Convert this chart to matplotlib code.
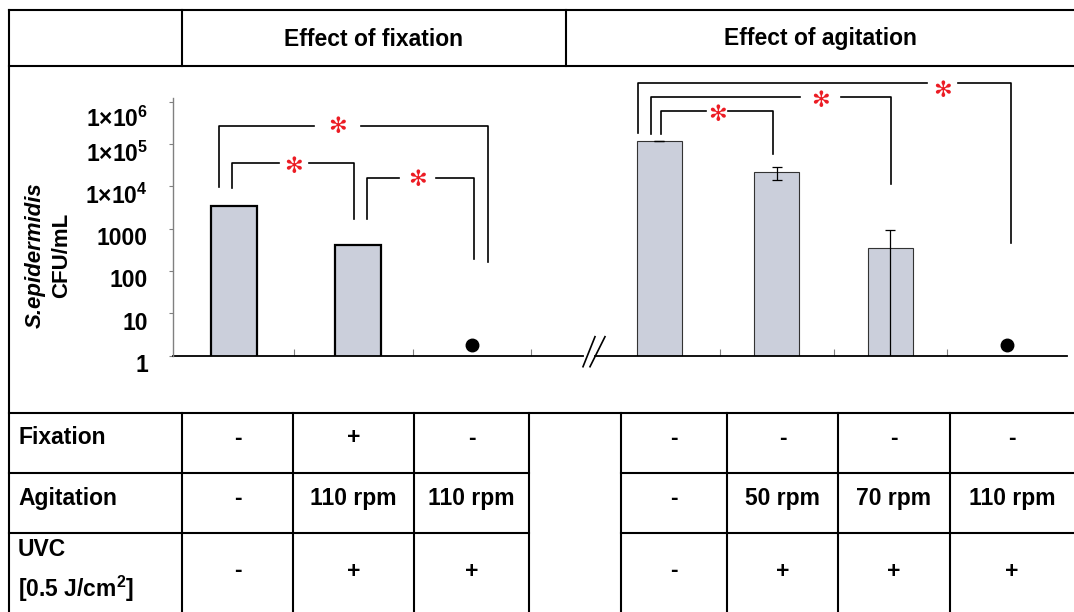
import numpy as np
import matplotlib.pyplot as plt
from matplotlib.transforms import offset_copy

plt.rcParams['font.family'] = ['Liberation Sans', 'DejaVu Sans']
plt.rcParams['font.weight'] = 'bold'
plt.rcParams['mathtext.fontset'] = 'custom'
plt.rcParams['mathtext.rm'] = 'Liberation Sans:bold'
plt.rcParams['mathtext.it'] = 'Liberation Sans:bold:italic'
plt.rcParams['mathtext.bf'] = 'Liberation Sans:bold'

# S. epidermidis CFU/mL
fix_cfu = [3500, 410]            # 3rd condition: no growth (dot)
agi_cfu = [1.18e5, 2.14e4, 353]  # 4th condition: no growth (dot)
agi_sd = [1500, 7000, 560]
no_growth = 1.8                  # level the "not detected" dots are drawn at

ytick_vals = [1, 10, 100, 1000, 1e4, 1e5, 1e6]
ytick_labels = ['1', '10', '100', '1000', '1×10$^{4}$', '1×10$^{5}$', '1×10$^{6}$']

headers = ['Effect of fixation', 'Effect of agitation']
row_names = ['Fixation', 'Agitation', 'UVC\n[0.5 J/cm$^{2}$]']
fixation = ['-', '+', '-', '-', '-', '-', '-']
agitation = ['-', '110 rpm', '110 rpm', '-', '50 rpm', '70 rpm', '110 rpm']
uvc = ['-', '+', '+', '-', '+', '+', '+']

# layout (figure pixels)
W, H = 1074, 612
x0, x1, ytop, ybase = 173, 1067, 98, 355.5
left_x = [233.5, 357.5, 471.5]
right_x = [659, 776.7, 890, 1006.7]
cat_edges = [293.6, 412.5, 531, 720.3, 833.7, 947.3]
col_x = [237.5, 353.5, 471.5, 674, 782.5, 894, 1012]
row_y = [438, 498, 571]
fs = 16.5
bar_color = '#cbcfdb'
red = '#ec1c24'

fig = plt.figure(figsize=(W / 100, H / 100), dpi=100)

ax = fig.add_axes([x0 / W, 1 - ybase / H, (x1 - x0) / W, (ybase - ytop) / H])
ax.set_zorder(1)
ax.set_xlim(x0, x1)
ax.set_yscale('log')
ax.set_ylim(1, 1.22e6)

ax.bar(left_x[:2], fix_cfu, width=46, color=bar_color, edgecolor='black', linewidth=1.6)
ax.bar(right_x[:3], agi_cfu, width=45, color=bar_color, edgecolor='#333333', linewidth=0.8)
ax.errorbar(right_x[:3], agi_cfu, yerr=agi_sd, fmt='none', ecolor='black',
            elinewidth=0.9, capsize=3.5, capthick=0.9)
ax.plot([left_x[2], right_x[3]], [no_growth, no_growth], 'o', color='black', ms=9,
        clip_on=False)

for s in ['top', 'right', 'bottom']:
    ax.spines[s].set_visible(False)
ax.spines['left'].set_color('#808080')
ax.spines['left'].set_linewidth(1.0)
ax.set_yticks(ytick_vals)
ax.minorticks_off()
ax.tick_params(axis='y', direction='out', length=3, color='#808080', labelleft=False)
ax.set_xticks(cat_edges)
ax.tick_params(axis='x', direction='in', length=5, color='#808080', labelbottom=False)

xt = ax.get_xaxis_transform()
ax.plot([x0, 583], [0, 0], transform=xt, color='black', lw=1.3, clip_on=False)
ax.plot([595, x1], [0, 0], transform=xt, color='black', lw=1.3, clip_on=False)

lab_tr = offset_copy(ax.get_yaxis_transform(), fig=fig, x=-25, y=-10, units='dots')
for v, lab in zip(ytick_vals, ytick_labels):
    dy = -8 if v == 1e6 else 0
    tr = offset_copy(lab_tr, fig=fig, y=dy, units='dots')
    ax.text(0, v, lab, transform=tr, ha='right', va='center', fontsize=fs)

# overlay in pixel coordinates: table, brackets, labels
tab = fig.add_axes([0, 0, 1, 1])
tab.set_zorder(2)
tab.set_xlim(0, W)
tab.set_ylim(H, 0)
tab.axis('off')

lw = 1.5
for y in [10, 65.7, 412.7]:
    tab.plot([9, W], [y, y], color='black', lw=lw, solid_capstyle='projecting')
for y in [473.3, 533.3]:
    tab.plot([9, 529], [y, y], color='black', lw=lw)
    tab.plot([621, W], [y, y], color='black', lw=lw)
tab.plot([9, 9], [10, H], color='black', lw=lw, solid_capstyle='projecting')
for x in [182, 566]:
    tab.plot([x, x], [10, 65.7], color='black', lw=lw)
for x in [182, 293, 414, 529, 621, 727, 838, 950]:
    tab.plot([x, x], [412.7, H], color='black', lw=lw)

tab.text(374, 39, headers[0], ha='center', va='center', fontsize=fs)
tab.text(820, 39, headers[1], ha='center', va='center', fontsize=fs)

tab.text(18, row_y[0], row_names[0], ha='left', va='center', fontsize=fs)
tab.text(18, row_y[1], row_names[1], ha='left', va='center', fontsize=fs)
uvc_name = row_names[2].split('\n')
tab.text(18, 549, uvc_name[0], ha='left', va='center', fontsize=fs)
tab.text(18, 589, uvc_name[1], ha='left', va='center', fontsize=fs)
for row, y in zip([fixation, agitation, uvc], row_y):
    for x, s in zip(col_x, row):
        tab.text(x, y, s, ha='center', va='center', fontsize=fs)

tab.text(35, 255, 'S.epidermidis', rotation=90, ha='center', va='center',
         fontsize=16, style='italic')
tab.text(62, 255, 'CFU/mL', rotation=90, ha='center', va='center', fontsize=16)

# axis break
tab.plot([583, 595], [366.7, 336.7], color='black', lw=1.2)
tab.plot([590, 605], [366.7, 336.7], color='black', lw=1.2)

# significance brackets: x left, x right, top, left foot, right foot, gap start, gap end, star y
brackets = [
    (218.6, 487.5, 125.7, 186.7, 261.7, 314, 360.7, 127),
    (232, 353.6, 162.7, 188.3, 219.3, 278.6, 309, 167),
    (367, 474, 178.3, 219.3, 259.3, 399, 436.4, 180),
    (637.7, 1010.7, 82.7, 133.3, 243.3, 926.7, 958.3, 91),
    (650.7, 891, 97.3, 134, 184.3, 800, 840.7, 101),
    (660.7, 773.3, 110.7, 134, 154, 706, 728.3, 115),
]
for xl, xr, yt, ybl, ybr, ga, gb, sy in brackets:
    tab.plot([xl, xl, ga], [ybl, yt, yt], color='black', lw=1.2)
    tab.plot([gb, xr, xr], [yt, yt, ybr], color='black', lw=1.2)
    tab.text((ga + gb) / 2, sy, '✻', color=red, ha='center', va='center',
             fontsize=16, family='DejaVu Sans', fontweight='normal')

fig.savefig('out.png', dpi=100)
